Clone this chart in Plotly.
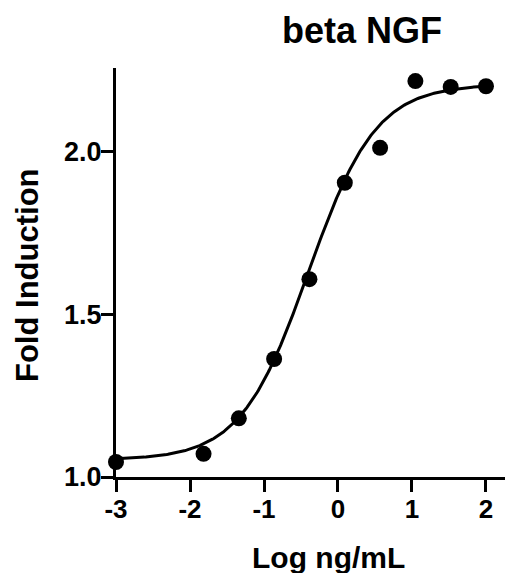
import numpy as np
import plotly.graph_objects as go

# Data
log_conc = [-3.0, -1.817, -1.340, -0.863, -0.386, 0.092, 0.569, 1.046, 1.523, 2.0]
fold_induction = [1.046, 1.071, 1.180, 1.362, 1.607, 1.903, 2.010, 2.215, 2.197, 2.199]

# 4PL fit parameters (estimated from the drawn curve)
fit_bottom = 1.052
fit_top = 2.205
fit_log_ec50 = -0.40
fit_hill = 0.95

x_ticks = [-3, -2, -1, 0, 1, 2]
y_ticks = [1.0, 1.5, 2.0]

xf = np.linspace(-3, 2, 300)
yf = fit_bottom + (fit_top - fit_bottom) / (1 + 10 ** ((fit_log_ec50 - xf) * fit_hill))

FONT = "Liberation Sans, Arial, sans-serif"

fig = go.Figure()
fig.add_trace(go.Scatter(x=xf, y=yf, mode="lines",
                         line=dict(color="black", width=3), cliponaxis=False,
                         hoverinfo="skip", showlegend=False))
fig.add_trace(go.Scatter(x=log_conc, y=fold_induction, mode="markers",
                         marker=dict(color="black", size=16), cliponaxis=False,
                         showlegend=False))

# page has an 8px body margin; compensate so the figure lands where the reference is
OFF = 8
W, H = 513 - OFF, 573 - OFF
ml, mr, mt, mb = 116 - OFF, 0, 68 - OFF, 573 - 477
pw, ph = W - ml - mr, H - mt - mb

x_tick_font = dict(size=26, family=FONT, color="black", weight="bold")
y_tick_font = dict(size=27, family=FONT, color="black", weight="bold")

fig.update_layout(
    width=W, height=H,
    margin=dict(l=ml, r=mr, t=mt, b=mb, autoexpand=False),
    paper_bgcolor="white", plot_bgcolor="white",
    font=dict(family=FONT, color="black"),
    title=dict(text="<b>beta NGF</b>", x=(321 - OFF) / W, xanchor="center",
               y=1 - (30 - OFF) / H, yanchor="middle", xref="paper",
               font=dict(size=36, family=FONT, color="black")),
    xaxis=dict(range=[-3, 2.365], tickvals=x_ticks, ticktext=[str(v) for v in x_ticks],
               showgrid=False, zeroline=False, showline=True, linecolor="black",
               linewidth=3, ticks="outside", ticklen=12, tickwidth=3, tickcolor="black",
               tickfont=x_tick_font, ticklabelstandoff=-5, fixedrange=True),
    yaxis=dict(range=[1.0, 2.255], tickvals=y_ticks, ticktext=[f"{v:.1f}" for v in y_ticks],
               showgrid=False, zeroline=False, showline=True, linecolor="black",
               linewidth=3, ticks="outside", ticklen=12, tickwidth=3, tickcolor="black",
               tickfont=y_tick_font, ticklabelstandoff=-6, fixedrange=True),
    annotations=[
        dict(text="<b>Log ng/mL</b>", xref="paper", yref="paper",
             x=(328.5 - 116) / pw, y=-(557 - 477) / ph,
             xanchor="center", yanchor="middle", showarrow=False,
             font=dict(size=30, family=FONT, color="black")),
        dict(text="<b>Fold Induction</b>", xref="paper", yref="paper",
             x=-(116 - 27) / pw, y=1 - (275 - 68) / ph, textangle=-90,
             xanchor="center", yanchor="middle", showarrow=False,
             font=dict(size=31, family=FONT, color="black")),
    ],
)

fig.write_html("out.html")
